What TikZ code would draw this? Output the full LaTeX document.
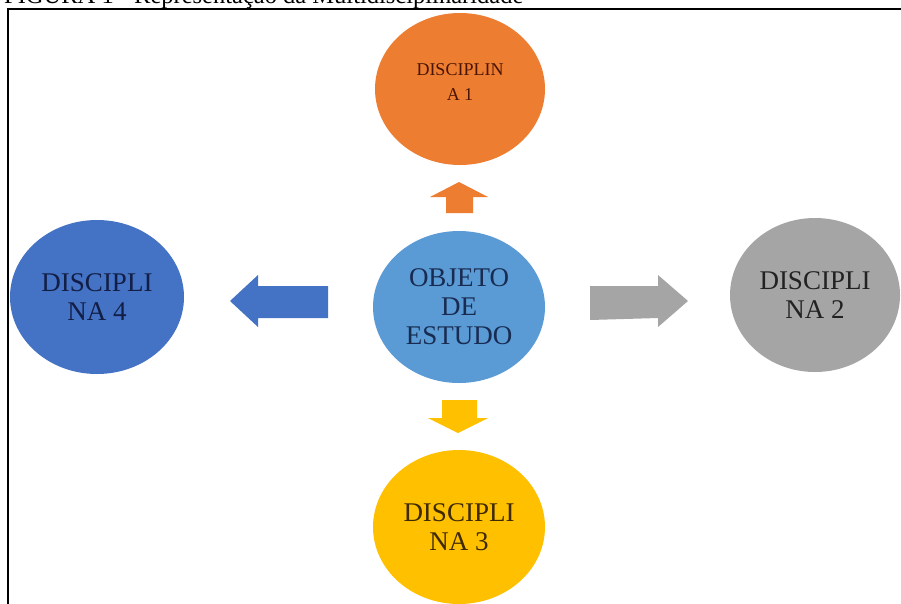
\documentclass[tikz,border=0pt]{standalone}
\usepackage{fontspec}
\setmainfont{Liberation Serif}
\usetikzlibrary{shapes.geometric}
\definecolor{cOrange}{HTML}{ED7D31}
\definecolor{cOrangeTxt}{HTML}{4A1404}
\definecolor{cLight}{HTML}{5B9BD5}
\definecolor{cLightTxt}{HTML}{182C52}
\definecolor{cBlue}{HTML}{4472C4}
\definecolor{cBlueTxt}{HTML}{121E45}
\definecolor{cGray}{HTML}{A5A5A5}
\definecolor{cGrayTxt}{HTML}{222222}
\definecolor{cYellow}{HTML}{FFC000}
\definecolor{cYellowTxt}{HTML}{3F2A00}
\tikzset{
  disc/.style={ellipse, inner sep=0pt, align=center, font=\fontsize{27}{29}\selectfont},
  smalltxt/.style={align=center, font=\fontsize{18}{25}\selectfont, inner sep=0pt},
  frameline/.style={line width=2pt, black},
}
\begin{document}
\begin{tikzpicture}[x=1pt,y=-1pt]
\useasboundingbox (0,0) rectangle (901,603);
\clip (0,0) rectangle (901,603);
\fill[white] (0,0) rectangle (901,603);
% caption, cut off at the top as in the reference
\node[anchor=base west, inner sep=0pt, font=\fontsize{24.5}{26}\selectfont] (caption) at (4,3) {FIGURA 1 - Representação da Multidisciplinaridade};
% frame
\coordinate (fTL) at (8,9);
\coordinate (fTR) at (905,9);
\coordinate (fBL) at (8,610);
\draw[frameline] (fTR) -- (fTL) -- (fBL);
% circles
\node[disc, fill=cOrange, minimum width=170pt, minimum height=152pt] (d1) at (460,89) {};
\node[smalltxt, text=cOrangeTxt] (d1t) at (460,82) {DISCIPLIN\\A 1};
\node[disc, fill=cLight, text=cLightTxt, minimum width=172pt, minimum height=152pt] (obj) at (459,307) {OBJETO\\DE\\ESTUDO};
\node[disc, fill=cBlue, text=cBlueTxt, minimum width=174pt, minimum height=154pt] (d4) at (97,297) {DISCIPLI\\NA 4};
\node[disc, fill=cGray, text=cGrayTxt, minimum width=170pt, minimum height=154pt] (d2) at (815,295) {DISCIPLI\\NA 2};
\node[disc, fill=cYellow, text=cYellowTxt, minimum width=172pt, minimum height=154pt] (d3) at (459,527) {DISCIPLI\\NA 3};
% block arrows
\fill[cOrange] (446,213) -- (446,197) -- (430,197) -- (459,182) -- (488,197) -- (473,197) -- (473,213) -- cycle;
\fill[cBlue] (328,286) -- (258,286) -- (258,275) -- (230,301) -- (258,327) -- (258,318) -- (328,318) -- cycle;
\fill[cGray] (590,286) -- (658,286) -- (658,275) -- (688,301) -- (658,327) -- (658,318) -- (590,320) -- cycle;
\fill[cYellow] (442,400) -- (477,400) -- (477,418) -- (488,418) -- (458,433) -- (428,418) -- (442,418) -- cycle;
\end{tikzpicture}
\end{document}
